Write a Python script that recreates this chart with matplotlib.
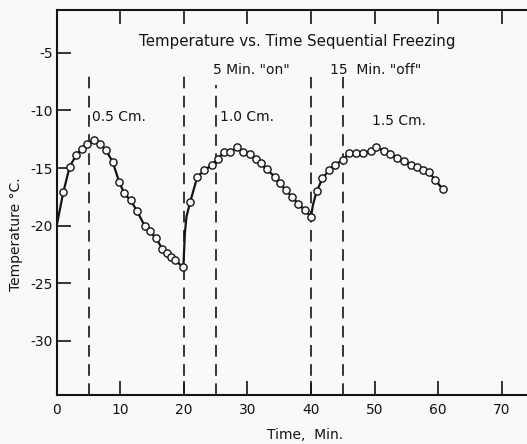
import matplotlib
matplotlib.use("Agg")
import matplotlib.pyplot as plt

# ---- data ----
marker_t = [1.0, 2.0, 3.0, 3.9, 4.8, 5.8, 6.8, 7.7, 8.8, 9.8, 10.6, 11.6, 12.6,
            13.8, 14.7, 15.6, 16.6, 17.3, 17.9, 18.6, 19.9,
            21.0, 22.1, 23.2, 24.4, 25.3, 26.3, 27.3, 28.4, 29.3, 30.4, 31.3,
            32.1, 33.0, 34.3, 35.1, 36.0, 37.0, 38.0, 39.0, 40.0,
            40.9, 41.8, 42.8, 43.8, 45.0, 46.0, 47.1, 48.2, 49.4, 50.3, 51.5,
            52.5, 53.6, 54.6, 55.7, 56.7, 57.7, 58.5, 59.5, 60.7]
marker_T = [-17.1, -14.9, -13.9, -13.3, -12.9, -12.6, -12.9, -13.4, -14.5, -16.2,
            -17.2, -17.8, -18.7, -20.0, -20.5, -21.1, -22.0, -22.4, -22.75, -23.0,
            -23.6,
            -17.9, -15.75, -15.2, -14.7, -14.2, -13.6, -13.6, -13.2, -13.6, -13.8,
            -14.2, -14.6, -15.1, -15.75, -16.3, -16.9, -17.5, -18.1, -18.65, -19.2,
            -17.0, -15.9, -15.2, -14.7, -14.3, -13.7, -13.7, -13.7, -13.5, -13.2,
            -13.5, -13.8, -14.1, -14.4, -14.7, -14.9, -15.2, -15.3, -16.0, -16.8]

# extra unmarked points on the curve (start and steep rises)
curve_extra_t = [0.0, 20.15, 20.4, 40.3]
curve_extra_T = [-19.9, -20.6, -19.2, -18.2]

dash_t = [5, 20, 25, 40, 45]
dash_top = [-6.6, -6.6, -7.8, -7.1, -7.1]

xticks = [0, 10, 20, 30, 40, 50, 60, 70]
yticks = [-30, -25, -20, -15, -10, -5]

title_text = 'Temperature vs. Time Sequential Freezing'
annotations = [
    (24.6, -6.5, '5 Min. "on"'),
    (43.0, -6.5, '15  Min. "off"'),
    (5.6, -10.6, '0.5 Cm.'),
    (25.6, -10.6, '1.0 Cm.'),
    (49.6, -10.9, '1.5 Cm.'),
]

# ---- figure ----
bg = '#f9f9f7'
ink = '#141414'
fig = plt.figure(figsize=(5.27, 4.44), dpi=100, facecolor=bg)
ax = fig.add_axes([0.108, 0.110, 0.892, 0.867], facecolor=bg)

# curve through all points
pts = sorted(zip(marker_t + curve_extra_t, marker_T + curve_extra_T))
ax.plot([p[0] for p in pts], [p[1] for p in pts], color=ink, lw=1.6, zorder=3)
ax.plot(marker_t, marker_T, linestyle='none', marker='o', markersize=5.2,
        markerfacecolor=bg, markeredgecolor=ink, markeredgewidth=1.0, zorder=4)

ymin, ymax = -34.7, -1.3
for t, top in zip(dash_t, dash_top):
    ax.plot([t, t], [ymin, top], color=ink, lw=1.2, dashes=(7, 4.5), zorder=2)

ax.set_xlim(0, 74)
ax.set_ylim(ymin, ymax)
ax.set_xticks(xticks)
ax.set_yticks(yticks)
ax.set_xticklabels([str(v) for v in xticks], fontsize=10, color=ink)
ax.set_yticklabels([str(v) for v in yticks], fontsize=10, color=ink)
ax.tick_params(axis='both', direction='in', length=10, width=1.2, colors=ink,
               top=True, labeltop=False)
ax.tick_params(axis='x', pad=6)
ax.tick_params(axis='y', pad=3)

for s in ['left', 'bottom', 'top']:
    ax.spines[s].set_linewidth(1.5)
    ax.spines[s].set_color(ink)
ax.spines['right'].set_visible(False)

ax.text(37.8, -4.0, title_text, ha='center', va='center', fontsize=10.8, color=ink)
for x, y, s in annotations:
    ax.text(x, y, s, ha='left', va='center', fontsize=10, color=ink)

ax.set_xlabel('Time,  Min.', fontsize=10, color=ink)
ax.xaxis.set_label_coords(0.528, -0.085)
ax.text(-0.088, 0.418, 'Temperature °C.', rotation=90, ha='center', va='center',
        fontsize=10, color=ink, transform=ax.transAxes)

fig.savefig('out.png', dpi=100, facecolor=bg)
